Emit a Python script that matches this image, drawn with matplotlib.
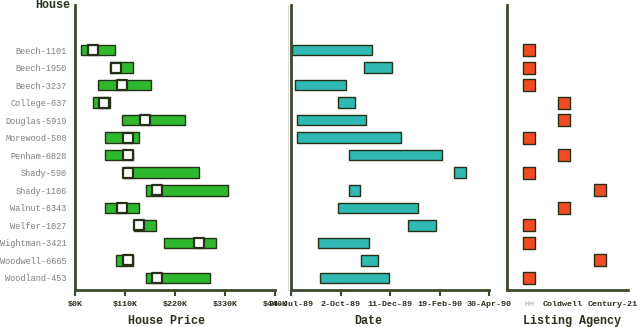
import matplotlib
matplotlib.use("Agg")
import matplotlib.pyplot as plt
import matplotlib.transforms as mtransforms
import pandas as pd
import numpy as np

houses = ["Beech-1101", "Beech-1950", "Beech-3237", "College-637", "Douglas-5919",
          "Morewood-508", "Penham-6828", "Shady-590", "Shady-1106", "Walnut-6343",
          "Welfer-1027", "Wightman-3421", "Woodwell-6665", "Woodland-453"]
price_low = [13, 77, 51, 40, 104, 66, 66, 106, 157, 66, 130, 195, 91, 157]
price_high = [88, 128, 168, 77, 243, 141, 128, 272, 336, 141, 179, 310, 128, 296]
price_mark = [40, 90, 104, 64, 155, 117, 117, 117, 181, 104, 141, 272, 117, 181]
date_start = ["1989-07-25", "1989-11-04", "1989-07-29", "1989-09-28", "1989-08-01",
              "1989-08-01", "1989-10-14", "1990-03-12", "1989-10-14", "1989-09-28",
              "1990-01-05", "1989-08-31", "1989-10-31", "1989-09-03"]
date_end = ["1989-11-16", "1989-12-14", "1989-10-10", "1989-10-22", "1989-11-07",
            "1989-12-26", "1990-02-23", "1990-03-28", "1989-10-30", "1990-01-20",
            "1990-02-14", "1989-11-12", "1989-11-24", "1989-12-10"]
agencies = ["HH", "Coldwell", "Century-21"]
agency = ["HH", "HH", "HH", "Coldwell", "Coldwell", "HH", "Coldwell", "HH",
          "Century-21", "Coldwell", "HH", "HH", "Century-21", "HH"]
price_ticks = [0, 110, 220, 330, 440]
price_tick_labels = ["$0K", "$110K", "$220K", "$330K", "$440K"]
date_ticks = ["1989-07-24", "1989-10-02", "1989-12-11", "1990-02-19", "1990-04-30"]
date_tick_labels = ["24-Jul-89", "2-Oct-89", "11-Dec-89", "19-Feb-90", "30-Apr-90"]

AX = "#3b4a2c"
GREEN = "#2eb82e"
TEAL = "#30b8b2"
RED = "#f24a22"
TXT = "#2a3320"
MONO = "Liberation Mono"
TS = 6.0

fig = plt.figure(figsize=(6.4, 3.27), dpi=100)
bottom = (327 - 290) / 327
height = 285 / 327
ax1 = fig.add_axes([75 / 640, bottom, 200 / 640, height])
ax2 = fig.add_axes([291 / 640, bottom, 198 / 640, height])
ax3 = fig.add_axes([507 / 640, bottom, 121 / 640, height])

y = np.arange(len(houses))
ylim = (13.69, -2.57)

for ax in (ax1, ax2, ax3):
    ax.set_ylim(*ylim)
    for s in ("top", "right"):
        ax.spines[s].set_visible(False)
    for s in ("left", "bottom"):
        ax.spines[s].set_color(AX)
        ax.spines[s].set_linewidth(2)
    ax.tick_params(axis="x", colors=AX, length=4, width=1.5, labelsize=TS, pad=4)
    ax.tick_params(axis="y", length=0)
    ax.set_yticks([])

# Panel 1: price
low = np.array(price_low)
high = np.array(price_high)
ax1.barh(y, high - low, left=low, height=0.6, color=GREEN, edgecolor="#243018", linewidth=1.0)
ax1.scatter(price_mark, y, marker="s", s=46, facecolor="white", edgecolor="#243018", linewidths=1.6, zorder=3)
ax1.set_xlim(0, 440)
ax1.set_xticks(price_ticks)
ax1.set_xticklabels(price_tick_labels, fontfamily=MONO, fontweight="bold", color=TXT, fontsize=TS)
ax1.set_yticks(y)
ax1.set_yticklabels(houses, fontfamily=MONO, color="#808080", fontsize=6.2)
ax1.tick_params(axis="y", pad=6)
fig.text(70 / 640, 1 - 5 / 327, "House", ha="right", va="center", fontfamily=MONO,
         fontweight="bold", fontsize=8.5, color=TXT)
fig.add_artist(plt.Line2D([288 / 640, 288 / 640], [bottom, bottom + height],
                          color="#dddddd", linewidth=0.8))

# Panel 2: dates
ds = pd.to_datetime(date_start)
de = pd.to_datetime(date_end)
t0 = pd.Timestamp(date_ticks[0])
s_days = np.array((ds - t0).days, dtype=float)
e_days = np.array((de - t0).days, dtype=float)
ax2.barh(y, e_days - s_days, left=s_days, height=0.6, color=TEAL, edgecolor="#243018", linewidth=1.0)
tick_days = [(pd.Timestamp(d) - t0).days for d in date_ticks]
ax2.set_xlim(tick_days[0], tick_days[-1])
ax2.set_xticks(tick_days)
ax2.set_xticklabels(date_tick_labels, fontfamily=MONO, fontweight="bold", color=TXT, fontsize=TS)

# Panel 3: agency
ax_idx = [agencies.index(a) for a in agency]
ax3.scatter(ax_idx, y, marker="s", s=72, facecolor=RED, edgecolor="#243018", linewidths=1.0, zorder=3)
ax3.set_xlim(-0.62, 2.79)
ax3.set_xticks(range(len(agencies)))
ax3.set_xticklabels(agencies, fontfamily=MONO, fontweight="bold", color=TXT, fontsize=TS)
ax3.tick_params(axis="x", length=0, pad=8)
labs = ax3.get_xticklabels()
labs[0].set_color("#aaaaaa")
labs[0].set_fontweight("normal")
labs[1].set_transform(labs[1].get_transform() +
                      mtransforms.ScaledTranslation(-2 / 100, 0, fig.dpi_scale_trans))
labs[2].set_transform(labs[2].get_transform() +
                      mtransforms.ScaledTranslation(13 / 100, 0, fig.dpi_scale_trans))

# Axis titles
for xpix, txt in [(166, "House Price"), (368, "Date"), (572, "Listing Agency")]:
    fig.text(xpix / 640, 1 - 321 / 327, txt, ha="center", va="center", fontfamily=MONO,
             fontweight="bold", fontsize=8.5, color=TXT)

fig.savefig("out.png", dpi=100)
